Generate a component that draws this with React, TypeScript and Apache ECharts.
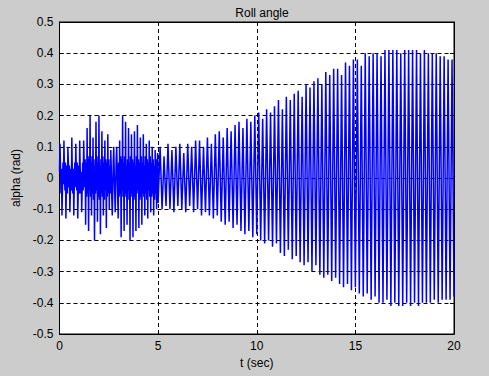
import React, { useEffect, useRef } from "react";
import * as echarts from "echarts";

const title = "Roll angle";
const xName = "t (sec)";
const yName = "alpha (rad)";

// early, noisy part: sampled every 0.025 s from t = 0
const earlyStep = 0.025;
const earlyValues = [
  // t 0 – 1.3
  0.02, 0.11, 0.04, -0.05, 0.03, -0.12, -0.04, 0.05, -0.02,
  0.12, 0.03, -0.04, 0.05, -0.13, -0.03, 0.04, -0.05,
  0.1, 0.05, -0.03, 0.04, -0.11, -0.05, 0.03, -0.04,
  0.13, 0.02, -0.05, 0.03, -0.12, -0.02, 0.05, -0.03,
  0.11, 0.04, -0.04, 0.05, -0.13, -0.04, 0.04, -0.05,
  0.12, 0.03, -0.05, 0.02, -0.11, -0.03, 0.05, -0.04,
  0.12, 0.05, -0.03,
  // t 1.3 – 2.6
  0.06, -0.15, 0.05, -0.06, 0.16, -0.05, 0.07, -0.17,
  0.06, -0.04, 0.2, -0.06, 0.05, -0.12, 0.07, -0.05,
  0.13, -0.07, 0.04, -0.2, 0.06, -0.05, 0.18, -0.04,
  0.07, -0.14, 0.05, -0.06, 0.2, -0.07, 0.04, -0.18,
  0.06, -0.05, 0.15, -0.06, 0.07, -0.12, 0.05, -0.07,
  0.12, -0.04, 0.06, -0.16, 0.05, -0.06, 0.14, -0.05,
  0.06, -0.1, 0.04, -0.05,
  // t 2.6 – 3.0
  0.09, 0.03, -0.06, -0.12, -0.04, 0.05, 0.1, 0.02, -0.05, -0.11, -0.03, 0.06, 0.1, 0.03, -0.06, -0.13,
  // t 3.0 – 5.0
  0.05, -0.06, 0.12, -0.05, 0.07, -0.19, 0.06, -0.04,
  0.2, -0.06, 0.05, -0.17, 0.07, -0.05, 0.18, -0.06,
  0.04, -0.15, 0.06, -0.07, 0.16, -0.04, 0.05, -0.2,
  0.07, -0.06, 0.14, -0.05, 0.06, -0.19, 0.05, -0.07,
  0.15, -0.06, 0.04, -0.17, 0.07, -0.05, 0.17, -0.04,
  0.06, -0.16, 0.05, -0.07, 0.13, -0.06, 0.07, -0.15,
  0.05, -0.05, 0.14, -0.06, 0.04, -0.12, 0.07, -0.05,
  0.11, -0.07, 0.06, -0.13, 0.05, -0.04, 0.12, -0.06,
  0.07, -0.11, 0.05, -0.06, 0.1, -0.05, 0.06, -0.12,
  0.04, -0.07, 0.09, -0.05, 0.06, -0.1, 0.03, 0.08,
];

// later, regular oscillation: extremes every 0.1 s from t = 5
const lateStart = 5;
const lateStep = 0.1;
const lateValues = [
  -0.08, 0.1, -0.1, 0.07, -0.09, 0.11, -0.1, 0.09, -0.11, 0.1,
  -0.09, 0.11, -0.1, 0.08, -0.11, 0.11, -0.09, 0.1, -0.11, 0.12,
  -0.1, 0.12, -0.12, 0.1, -0.11, 0.13, -0.12, 0.11, -0.13, 0.14,
  -0.12, 0.15, -0.14, 0.13, -0.15, 0.16, -0.14, 0.15, -0.16, 0.17,
  -0.15, 0.18, -0.17, 0.16, -0.18, 0.19, -0.17, 0.18, -0.19, 0.2,
  -0.18, 0.21, -0.2, 0.19, -0.21, 0.22, -0.2, 0.21, -0.22, 0.23,
  -0.21, 0.25, -0.24, 0.22, -0.25, 0.26, -0.23, 0.25, -0.26, 0.27,
  -0.25, 0.28, -0.27, 0.26, -0.28, 0.3, -0.27, 0.29, -0.3, 0.31,
  -0.28, 0.32, -0.31, 0.3, -0.32, 0.34, -0.31, 0.33, -0.33, 0.35,
  -0.32, 0.35, -0.34, 0.33, -0.35, 0.37, -0.34, 0.36, -0.36, 0.38,
  -0.35, 0.38, -0.37, 0.36, -0.38, 0.4, -0.37, 0.39, -0.39, 0.4,
  -0.38, 0.4, -0.4, 0.39, -0.4, 0.41, -0.39, 0.41, -0.41, 0.41,
  -0.4, 0.41, -0.41, 0.4, -0.41, 0.41, -0.4, 0.41, -0.41, 0.41,
  -0.4, 0.41, -0.41, 0.4, -0.4, 0.41, -0.4, 0.4, -0.4, 0.4,
  -0.39, 0.4, -0.4, 0.39, -0.39, 0.39, -0.39, 0.38, -0.39, 0.38,
  -0.38,
];

const xMin = 0, xMax = 20, xInterval = 5;
const yMin = -0.5, yMax = 0.5, yInterval = 0.1;

const FONT = "Liberation Sans, Arial, Helvetica, sans-serif";

export default function App() {
  const ref = useRef<HTMLDivElement>(null);
  useEffect(() => {
    if (!ref.current) return;
    const chart = echarts.init(ref.current, null, { renderer: "svg" });
    const data: [number, number][] = [];
    earlyValues.forEach((v, i) => data.push([+(i * earlyStep).toFixed(3), v]));
    lateValues.forEach((v, i) => data.push([+(lateStart + i * lateStep).toFixed(3), v]));

    const labelStyle = { color: "#000", fontFamily: FONT, fontSize: 12 };
    const fmtY = (v: number) => String(+v.toFixed(1));
    const lineAx = { show: true, onZero: false, lineStyle: { color: "#000", width: 1 } };
    const tickAx = { show: true, inside: true, length: 4, lineStyle: { color: "#000" } };
    const dashed = { show: true, lineStyle: { color: "#000", type: [4, 3], width: 1 } };

    chart.setOption({
      animation: false,
      backgroundColor: "#cccccc",
      title: {
        text: title,
        left: 257,
        textAlign: "center",
        top: 2,
        textStyle: { color: "#000", fontFamily: FONT, fontSize: 12, fontWeight: "normal" },
      },
      grid: {
        left: 59.5,
        right: 35,
        top: 22,
        bottom: 42,
        show: true,
        backgroundColor: "#ffffff",
        borderColor: "#000",
        borderWidth: 1,
      },
      xAxis: [
        {
          type: "value",
          min: xMin,
          max: xMax,
          interval: xInterval,
          name: xName,
          nameLocation: "middle",
          nameGap: 22,
          nameTextStyle: labelStyle,
          axisLine: lineAx,
          axisTick: tickAx,
          axisLabel: { ...labelStyle, margin: 6 },
          splitLine: dashed,
        },
        {
          type: "value",
          position: "top",
          min: xMin,
          max: xMax,
          interval: xInterval,
          axisLine: lineAx,
          axisTick: tickAx,
          axisLabel: { show: false },
          splitLine: { show: false },
        },
      ],
      yAxis: [
        {
          type: "value",
          min: yMin,
          max: yMax,
          interval: yInterval,
          name: yName,
          nameLocation: "middle",
          nameGap: 38,
          nameTextStyle: labelStyle,
          axisLine: lineAx,
          axisTick: tickAx,
          axisLabel: { ...labelStyle, margin: 6, formatter: fmtY },
          splitLine: dashed,
        },
        {
          type: "value",
          position: "right",
          min: yMin,
          max: yMax,
          interval: yInterval,
          axisLine: lineAx,
          axisTick: tickAx,
          axisLabel: { show: false },
          splitLine: { show: false },
        },
      ],
      series: [
        {
          type: "line",
          data,
          xAxisIndex: 0,
          yAxisIndex: 0,
          showSymbol: false,
          symbol: "none",
          lineStyle: { color: "#0000ff", width: 1.5 },
          z: 3,
        },
      ],
    });
    return () => chart.dispose();
  }, []);
  return <div ref={ref} style={{ position: "fixed", left: 0, top: 0, width: 489, height: 376 }} />;
}
